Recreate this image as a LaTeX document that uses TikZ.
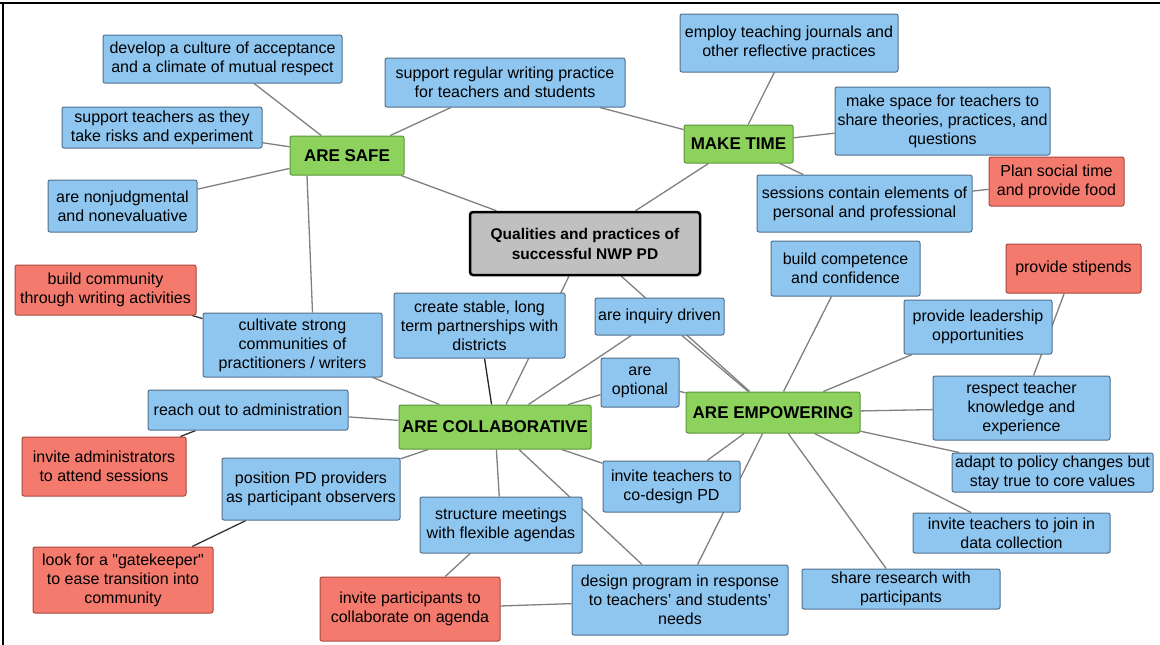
\documentclass[tikz,border=0pt]{standalone}
\usepackage{fontspec}
\setmainfont{Liberation Sans}
\usetikzlibrary{backgrounds}

\definecolor{boxblue}{RGB}{142,198,240}
\definecolor{lineblue}{RGB}{84,112,140}
\definecolor{boxgreen}{RGB}{140,210,92}
\definecolor{linegreen}{RGB}{92,150,60}
\definecolor{boxred}{RGB}{244,122,110}
\definecolor{linered}{RGB}{168,72,64}
\definecolor{boxgray}{RGB}{192,192,192}
\definecolor{edgegray}{RGB}{128,128,128}

\begin{document}
\begin{tikzpicture}[x=1pt,y=-1pt]

        \useasboundingbox (0,0) rectangle (1160,645);

        \node[draw=black, line width=2.5pt, fill=boxgray, rounded corners=3pt, inner sep=1pt,
              minimum width=230pt, minimum height=63pt, align=center,
              font=\fontsize{15.5}{20}\selectfont\bfseries] (center) at (585,243.5)
              {Qualities and practices of\\successful NWP PD};

        \begin{scope}[every node/.style={draw=linegreen, fill=boxgreen, rounded corners=2pt, line width=1pt,
                      inner sep=1pt, font=\fontsize{17}{20}\selectfont\bfseries}]
          \node[minimum width=114pt, minimum height=39pt] (safe)    at (347,155.5) {ARE SAFE};
          \node[minimum width=109pt, minimum height=38pt] (time)    at (738.5,144) {MAKE TIME};
          \node[minimum width=192pt, minimum height=44pt] (collab)  at (495,427)   {ARE COLLABORATIVE};
          \node[minimum width=174pt, minimum height=41pt] (empower) at (773,412.5) {ARE EMPOWERING};
        \end{scope}

        \begin{scope}[every node/.style={draw=lineblue, fill=boxblue, rounded corners=2pt, line width=1pt,
                      inner sep=1pt, align=center, font=\fontsize{16}{19}\selectfont}]
          \node[minimum width=239pt, minimum height=48pt] (culture)    at (222.5,59)   {develop a culture of acceptance\\and a climate of mutual respect};
          \node[minimum width=240pt, minimum height=49pt] (writing)    at (505,82.5)   {support regular writing practice\\for teachers and students};
          \node[minimum width=200pt, minimum height=41pt] (risks)      at (162,127.5)  {support teachers as they\\take risks and experiment};
          \node[minimum width=149pt, minimum height=52pt] (nonjudg)    at (122.5,206)  {are nonjudgmental\\and nonevaluative};
          \node[minimum width=218pt, minimum height=58pt] (journals)   at (789,43)     {employ teaching journals and\\other reflective practices};
          \node[minimum width=215pt, minimum height=68pt] (space)      at (942.5,121)  {make space for teachers to\\share theories, practices, and\\questions};
          \node[minimum width=215pt, minimum height=57pt] (sessions)   at (864.5,203.5){sessions contain elements of\\personal and professional};
          \node[minimum width=149pt, minimum height=55pt] (competence) at (845.5,268.5){build competence\\and confidence};
          \node[minimum width=148pt, minimum height=54pt] (leadership) at (978,327)    {provide leadership\\opportunities};
          \node[minimum width=177pt, minimum height=64pt] (respect)    at (1021.5,408) {respect teacher\\knowledge and\\experience};
          \node[minimum width=201pt, minimum height=39pt] (adapt)      at (1052.5,472.5){adapt to policy changes but\\stay true to core values};
          \node[minimum width=197pt, minimum height=40pt] (data)       at (1011.5,533) {invite teachers to join in\\data collection};
          \node[minimum width=198pt, minimum height=40pt] (share)      at (901,589)    {share research with\\participants};
          \node[minimum width=216pt, minimum height=70pt] (design)     at (680,600)    {design program in response\\to teachers' and students'\\needs};
          \node[minimum width=137pt, minimum height=51pt] (codesign)   at (671.5,486.5){invite teachers to\\co-design PD};
          \node[minimum width=162pt, minimum height=56pt] (structure)  at (501,525)    {structure meetings\\with flexible agendas};
          \node[minimum width=178pt, minimum height=62pt] (position)   at (311,489)    {position PD providers\\as participant observers};
          \node[minimum width=200pt, minimum height=40pt] (reach)      at (248,410)    {reach out to administration};
          \node[minimum width=179pt, minimum height=64pt] (cultivate)  at (292.5,345)  {cultivate strong\\communities of\\practitioners / writers};
          \node[minimum width=171pt, minimum height=65pt] (stable)     at (479.5,325.5){create stable, long\\term partnerships with\\districts};
          \node[minimum width=129pt, minimum height=37pt] (inquiry)    at (659.5,316.5){are inquiry driven};
          \node[minimum width=78pt,  minimum height=49pt] (optional)   at (640,382.5)  {are\\optional};
        \end{scope}

        \begin{scope}[every node/.style={draw=linered, fill=boxred, rounded corners=2pt, line width=1pt,
                      inner sep=1pt, align=center, font=\fontsize{16}{19}\selectfont}]
          \node[minimum width=135pt, minimum height=49pt] (food)         at (1056.5,181.5){Plan social time\\and provide food};
          \node[minimum width=135pt, minimum height=49pt] (stipends)     at (1073.5,268.5){provide stipends};
          \node[minimum width=181pt, minimum height=50pt] (buildcomm)    at (105.5,290)   {build community\\through writing activities};
          \node[minimum width=164pt, minimum height=59pt] (admins)       at (104,466.5)   {invite administrators\\to attend sessions};
          \node[minimum width=180pt, minimum height=66pt] (gatekeeper)   at (123,580)     {look for a \textquotedbl gatekeeper\textquotedbl\\to ease transition into\\community};
          \node[minimum width=180pt, minimum height=64pt] (participants) at (410,609)     {invite participants to\\collaborate on agenda};
        \end{scope}

        \begin{scope}[on background layer, every edge/.style={draw=edgegray, line width=1.3pt}]
          \fill[white] (0,0) rectangle (1160,645);
          \draw[line width=2pt] (0,3) -- (1160,3);
          \draw[line width=2pt] (3,3) -- (3,645);

          \path (center) edge (safe);
          \path (center) edge (time);
          \path (center) edge (collab);
          \path (center) edge (empower);

          \path (safe) edge (culture);
          \path (safe) edge (writing);
          \path (safe) edge (risks);
          \path (safe) edge (nonjudg);
          \path ([xshift=-40pt]safe.south) edge ([xshift=20pt]cultivate.north);

          \path (time) edge (writing);
          \path (time) edge (journals);
          \path (time) edge (space);
          \path (time) edge (sessions);
          \path (sessions) edge (food);

          \path (cultivate) edge[draw=black!80] (buildcomm);
          \path (cultivate) edge (collab);
          \path (stable) edge[draw=black!85] (collab);
          \path (inquiry) edge (collab);
          \path (optional) edge (collab);
          \path (reach) edge (collab);
          \path (position) edge (collab);
          \path (structure) edge (collab);
          \path (design) edge (collab);
          \path (codesign) edge (collab);

          \path (reach) edge[draw=black!80] (admins);
          \path (position) edge[draw=black!80] (gatekeeper);
          \path (structure) edge (participants);
          \path (participants) edge (design);

          \path (empower) edge (inquiry);
          \path (empower) edge (optional);
          \path (empower) edge (competence);
          \path (empower) edge (leadership);
          \path (empower) edge (respect);
          \path (empower) edge (adapt);
          \path (empower) edge (data);
          \path (empower) edge (share);
          \path (empower) edge (codesign);
          \path (empower) edge (design);
          \path (stipends) edge (respect);
        \end{scope}

      \end{tikzpicture}
\end{document}
